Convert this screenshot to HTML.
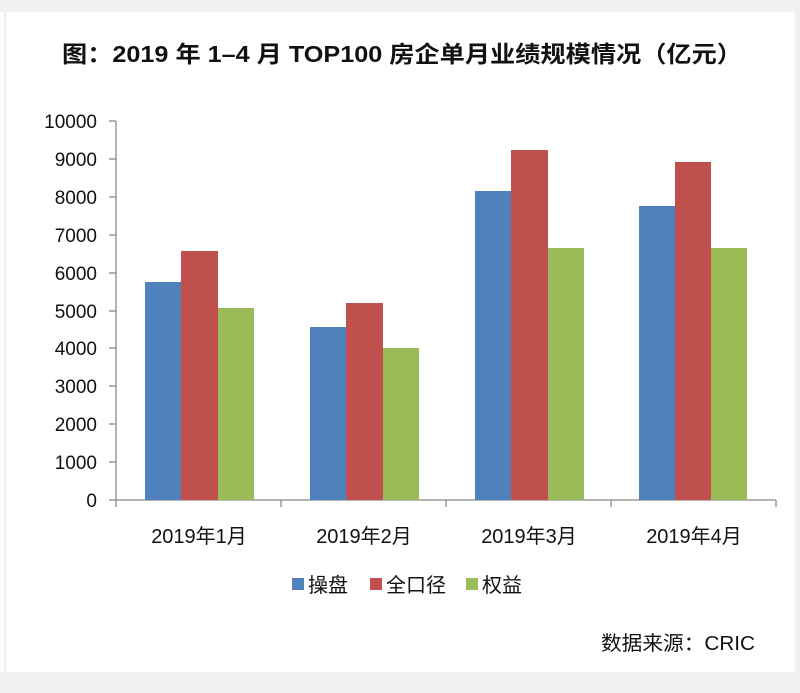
<!DOCTYPE html>
<html><head><meta charset="utf-8"><style>
html,body{margin:0;padding:0;background:#fff}
svg{display:block}
text{font-family:"Liberation Sans","Noto Sans CJK SC",sans-serif;fill:#111}
</style></head><body>
<svg width="800" height="693" viewBox="0 0 800 693">
<rect x="0" y="0" width="800" height="693" fill="#fff"/>
<rect x="0" y="0" width="800" height="12" fill="#f1f1f1"/>
<rect x="0" y="672" width="800" height="21" fill="#f1f1f1"/>
<rect x="795" y="0" width="5" height="693" fill="#f1f1f1"/>
<line x1="5" y1="12" x2="5" y2="672" stroke="#ddd" stroke-width="1"/>
<text x="402" y="62" text-anchor="middle" font-size="23" font-weight="bold" textLength="680" lengthAdjust="spacingAndGlyphs">图：2019 年 1–4 月 TOP100 房企单月业绩规模情况（亿元）</text>
<g font-size="19" text-anchor="end">
<text x="97" y="128">10000</text><text x="97" y="166">9000</text><text x="97" y="204">8000</text>
<text x="97" y="242">7000</text><text x="97" y="280">6000</text><text x="97" y="318">5000</text>
<text x="97" y="355">4000</text><text x="97" y="393">3000</text><text x="97" y="431">2000</text>
<text x="97" y="469">1000</text><text x="97" y="507">0</text>
</g>
<g stroke="#888" stroke-width="1.3">
<line x1="116" y1="121" x2="116" y2="501"/>
<line x1="116" y1="500" x2="776" y2="500"/>
<line x1="109" y1="121" x2="116" y2="121"/><line x1="109" y1="159" x2="116" y2="159"/>
<line x1="109" y1="197" x2="116" y2="197"/><line x1="109" y1="235" x2="116" y2="235"/>
<line x1="109" y1="273" x2="116" y2="273"/><line x1="109" y1="311" x2="116" y2="311"/>
<line x1="109" y1="348" x2="116" y2="348"/><line x1="109" y1="386" x2="116" y2="386"/>
<line x1="109" y1="424" x2="116" y2="424"/><line x1="109" y1="462" x2="116" y2="462"/>
<line x1="109" y1="500" x2="116" y2="500"/>
<line x1="116" y1="500" x2="116" y2="507"/><line x1="281" y1="500" x2="281" y2="507"/>
<line x1="446" y1="500" x2="446" y2="507"/><line x1="611" y1="500" x2="611" y2="507"/>
<line x1="776" y1="500" x2="776" y2="507"/>
</g>
<g>
<rect x="145" y="282" width="36" height="218" fill="#4f81bd"/>
<rect x="181" y="251" width="37" height="249" fill="#c0504d"/>
<rect x="218" y="308" width="36" height="192" fill="#9bbb59"/>
<rect x="310" y="327" width="36" height="173" fill="#4f81bd"/>
<rect x="346" y="303" width="37" height="197" fill="#c0504d"/>
<rect x="383" y="348" width="36" height="152" fill="#9bbb59"/>
<rect x="475" y="191" width="36" height="309" fill="#4f81bd"/>
<rect x="511" y="150" width="37" height="350" fill="#c0504d"/>
<rect x="548" y="248" width="36" height="252" fill="#9bbb59"/>
<rect x="639" y="206" width="36" height="294" fill="#4f81bd"/>
<rect x="675" y="162" width="36" height="338" fill="#c0504d"/>
<rect x="711" y="248" width="36" height="252" fill="#9bbb59"/>
</g>
<g font-size="20" text-anchor="middle">
<text x="199" y="543">2019年1月</text><text x="364" y="543">2019年2月</text>
<text x="529" y="543">2019年3月</text><text x="694" y="543">2019年4月</text>
</g>
<g font-size="20">
<rect x="292" y="578" width="12" height="12" fill="#4f81bd"/><text x="308" y="592">操盘</text>
<rect x="370" y="578" width="12" height="12" fill="#c0504d"/><text x="386" y="592">全口径</text>
<rect x="466" y="578" width="12" height="12" fill="#9bbb59"/><text x="482" y="592">权益</text>
</g>
<text x="601" y="650" font-size="20" textLength="154" lengthAdjust="spacingAndGlyphs">数据来源：CRIC</text>
</svg>
</body></html>
